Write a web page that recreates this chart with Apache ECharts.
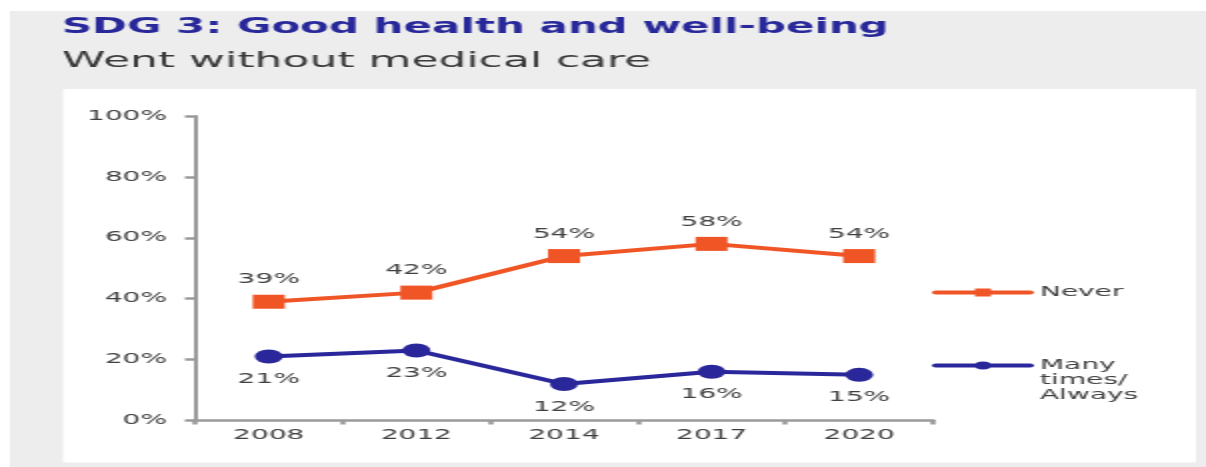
<!doctype html>
<html>
    <head>
        <meta charset="utf-8">
        <title>SDG 3 - Went without medical care</title>
        <style>
            html, body { margin: 0; padding: 0; background: #fff; overflow: hidden; }
            /* the source picture is stretched 2x horizontally, so the chart is drawn at half width and scaled */
            #main { width: 603px; height: 467px; transform: scaleX(2); transform-origin: 0 0; }
        </style>
    </head>
    <body>
        <div id="main"></div>
        <script src="https://cdn.jsdelivr.net/npm/echarts@6/dist/echarts.min.js"></script>
        <script>
            var years = ['2008', '2012', '2014', '2017', '2020'];
            var never = [39, 42, 54, 58, 54];
            var manyTimes = [21, 23, 12, 16, 15];
            var yTicks = [0, 20, 40, 60, 80, 100];

            var font = 'DejaVu Sans';
            var orange = '#f05526';
            var blue = '#2a279b';
            var textColor = '#404040';
            var axisColor = '#9a9a9a';

            var chart = echarts.init(document.getElementById('main'));

            chart.setOption({
                backgroundColor: '#fff',
                animation: false,
                graphic: [{
                    type: 'rect',
                    z: -10,
                    silent: true,
                    shape: { x: 5, y: 11, width: 598, height: 456 },
                    style: { fill: '#ededed' }
                }, {
                    type: 'rect',
                    z: -9,
                    silent: true,
                    shape: { x: 31.5, y: 89, width: 566.5, height: 373.5 },
                    style: { fill: '#fff' }
                }],
                title: {
                    text: 'SDG 3: Good health and well-being',
                    subtext: 'Went without medical care',
                    left: 31,
                    top: 17,
                    padding: 0,
                    itemGap: 12,
                    textStyle: {
                        fontFamily: font,
                        fontWeight: 'bold',
                        fontSize: 21,
                        color: '#28289a'
                    },
                    subtextStyle: {
                        fontFamily: font,
                        fontSize: 22,
                        color: '#3a3a3a'
                    }
                },
                legend: [{
                    data: ['Never'],
                    orient: 'vertical',
                    left: 466,
                    top: 285,
                    padding: 0,
                    itemWidth: 47,
                    itemHeight: 10,
                    lineStyle: { width: 4, cap: 'round' },
                    textStyle: { fontFamily: font, fontSize: 14, lineHeight: 15, color: textColor }
                }, {
                    data: ['Many times/Always'],
                    orient: 'vertical',
                    left: 466,
                    top: 328,
                    padding: 0,
                    itemWidth: 47,
                    itemHeight: 10,
                    lineStyle: { width: 4, cap: 'round' },
                    formatter: function () {
                        return '\n\nMany\ntimes/\nAlways';
                    },
                    textStyle: { fontFamily: font, fontSize: 14, lineHeight: 15, color: textColor }
                }],
                grid: {
                    left: 97.5,
                    right: 136.5,
                    top: 116,
                    bottom: 46.5
                },
                xAxis: {
                    type: 'category',
                    data: years,
                    boundaryGap: true,
                    axisLine: { lineStyle: { color: axisColor, width: 2.5 } },
                    axisTick: { show: true, length: 4, lineStyle: { color: axisColor, width: 2.5 } },
                    axisLabel: { margin: 8, fontFamily: font, fontSize: 14, color: textColor }
                },
                yAxis: {
                    type: 'value',
                    min: yTicks[0],
                    max: yTicks[yTicks.length - 1],
                    interval: 20,
                    splitLine: { show: false },
                    axisLine: { show: true, lineStyle: { color: axisColor, width: 2 } },
                    axisTick: { show: true, length: 5, lineStyle: { color: axisColor, width: 2.5 } },
                    axisLabel: {
                        margin: 14,
                        fontFamily: font,
                        fontSize: 14,
                        color: textColor,
                        formatter: '{value}%'
                    }
                },
                series: [{
                    name: 'Never',
                    type: 'line',
                    data: never,
                    symbol: 'rect',
                    symbolSize: [16, 14],
                    color: orange,
                    lineStyle: { width: 4, color: orange, cap: 'round' },
                    itemStyle: { color: orange },
                    label: {
                        show: true,
                        position: 'top',
                        distance: 8,
                        formatter: '{c}%',
                        fontFamily: font,
                        fontSize: 14,
                        color: textColor
                    }
                }, {
                    name: 'Many times/Always',
                    type: 'line',
                    data: manyTimes,
                    symbol: 'circle',
                    symbolSize: 14,
                    color: blue,
                    lineStyle: { width: 4, color: blue, cap: 'round' },
                    itemStyle: { color: blue },
                    label: {
                        show: true,
                        position: 'bottom',
                        distance: 9,
                        formatter: '{c}%',
                        fontFamily: font,
                        fontSize: 14,
                        color: textColor
                    }
                }]
            });

            window.onresize = chart.resize;
        </script>
    </body>
</html>
